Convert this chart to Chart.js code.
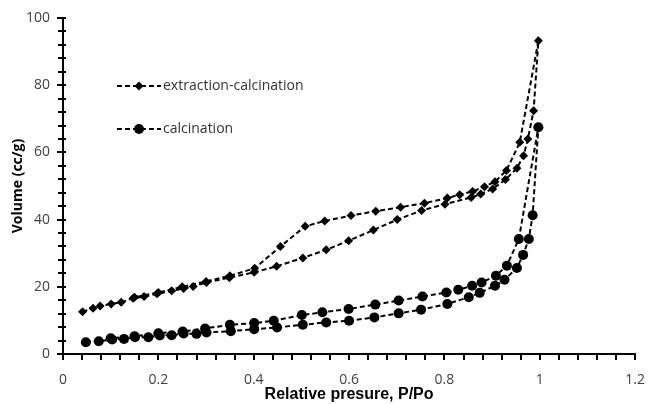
<!DOCTYPE html>
<html>
<head>
<meta charset="utf-8">
<script src="https://cdn.jsdelivr.net/npm/chart.js@4.4.1/dist/chart.umd.min.js"></script>
<style>
  html, body { margin: 0; padding: 0; background: #fff; }
  #wrap { position: relative; width: 658px; height: 404px; }
  #ticks { position: absolute; left: 0; top: 0; pointer-events: none; }
</style>
</head>
<body>
<div id="wrap"><canvas id="iso"></canvas><canvas id="ticks" width="658" height="404"></canvas></div>
<script>
// Isotherm data read from the figure (P/Po, volume cc/g), in measuring order:
// adsorption branch up, then desorption branch back down.
const extP = [0.041, 0.063, 0.078, 0.101, 0.122, 0.147, 0.170, 0.197, 0.228, 0.253, 0.273, 0.301,
    0.349, 0.401, 0.448, 0.503, 0.552, 0.599, 0.651, 0.701, 0.752, 0.801, 0.856, 0.876, 0.901,
    0.928, 0.952, 0.966, 0.975, 0.987, 0.997,
    0.958, 0.930, 0.906, 0.884, 0.859, 0.832, 0.806, 0.758, 0.708, 0.656, 0.604, 0.549, 0.508,
    0.456, 0.402, 0.350, 0.300, 0.250, 0.200, 0.150];
const extV = [12.6, 13.6, 14.3, 14.9, 15.4, 16.6, 17.1, 17.9, 18.8, 19.5, 20.1, 21.3,
    22.7, 24.3, 26.1, 28.6, 31.0, 33.7, 36.9, 40.0, 42.7, 44.6, 46.6, 47.6, 49.1,
    51.9, 55.3, 59.0, 64.0, 72.4, 93.2,
    63.0, 54.6, 51.3, 49.8, 48.4, 47.4, 46.4, 44.9, 43.7, 42.5, 41.2, 39.6, 38.0,
    32.0, 25.5, 23.3, 21.6, 20.0, 18.3, 16.9];

const calP = [0.048, 0.075, 0.103, 0.128, 0.151, 0.179, 0.203, 0.228, 0.253, 0.280, 0.301, 0.352,
    0.401, 0.449, 0.503, 0.552, 0.600, 0.653, 0.704, 0.751, 0.806, 0.851, 0.874, 0.906, 0.926,
    0.952, 0.965, 0.977, 0.985, 0.997,
    0.956, 0.931, 0.908, 0.878, 0.858, 0.829, 0.804, 0.754, 0.704, 0.655, 0.599, 0.544, 0.501,
    0.442, 0.401, 0.350, 0.298, 0.251, 0.200, 0.150, 0.100];
const calV = [3.5, 3.8, 4.3, 4.5, 5.0, 5.0, 5.5, 5.6, 6.1, 6.0, 6.4, 6.8,
    7.4, 7.9, 8.7, 9.4, 9.9, 10.9, 12.1, 13.2, 14.9, 16.9, 18.2, 20.3, 22.1,
    25.6, 29.5, 34.2, 41.3, 67.5,
    34.2, 26.3, 23.3, 21.3, 20.3, 19.1, 18.3, 17.1, 15.9, 14.7, 13.4, 12.4, 11.6,
    9.9, 9.2, 8.7, 7.6, 6.7, 6.2, 5.3, 4.7];

const seriesNames = ['extraction-calcination', 'calcination'];
const xMajor = [0, 0.2, 0.4, 0.6, 0.8, 1, 1.2];
const yMajor = [0, 20, 40, 60, 80, 100];

const toPoints = (xs, ys) => xs.map((x, i) => ({ x: x, y: ys[i] }));
const isMajor = (v, list) => list.some(m => Math.abs(m - v) < 1e-6);

// Tick marks on a clean overlay canvas: y ticks cross the axis, x ticks hang below it
const axisTicks = {
    id: 'axisTicks',
    afterDraw(chart) {
        const c = document.getElementById('ticks');
        const g = c.getContext('2d');
        const xs = chart.scales.x, ys = chart.scales.y;
        const left = chart.chartArea.left, bottom = chart.chartArea.bottom;
        g.clearRect(0, 0, c.width, c.height);
        g.fillStyle = '#000';
        ys.ticks.forEach(t => {
            const py = Math.round(ys.getPixelForValue(t.value));
            const out = isMajor(t.value, yMajor) ? 6 : 5;
            g.fillRect(left - out, py - 1, out + 3, 2);
        });
        xs.ticks.forEach(t => {
            const px = Math.round(xs.getPixelForValue(t.value));
            g.fillRect(px - 1, bottom - 1, 2, 7);
        });
    }
};

// Legend drawn inside the plot, like the spreadsheet original
const insideLegend = {
    id: 'insideLegend',
    afterDatasetsDraw(chart) {
        const ctx = chart.ctx;
        const rows = [86, 129];
        chart.data.datasets.forEach((ds, i) => {
            const y = rows[i];
            ctx.save();
            ctx.strokeStyle = '#000';
            ctx.lineWidth = 2;
            ctx.setLineDash([5, 3]);
            ctx.beginPath();
            ctx.moveTo(117, y);
            ctx.lineTo(161, y);
            ctx.stroke();
            ctx.setLineDash([]);
            ctx.fillStyle = '#000';
            ctx.beginPath();
            if (ds.pointStyle === 'rectRot') {
                const r = 4.5;
                ctx.moveTo(139, y - r);
                ctx.lineTo(139 + r, y);
                ctx.lineTo(139, y + r);
                ctx.lineTo(139 - r, y);
                ctx.closePath();
            } else {
                ctx.arc(139, y, 5, 0, Math.PI * 2);
            }
            ctx.fill();
            ctx.fillStyle = '#333';
            ctx.font = '14px "Open Sans"';
            ctx.textBaseline = 'middle';
            ctx.fillText(ds.label, 163, y);
            ctx.restore();
        });
    }
};

const tickFont = { family: '"Open Sans"', size: 14 };
const hiddenGrid = { drawOnChartArea: false, color: 'rgba(0,0,0,0)', tickLength: 5 };

new Chart(document.getElementById('iso'), {
    type: 'scatter',
    data: {
        datasets: [{
            label: seriesNames[0],
            data: toPoints(extP, extV),
            showLine: true,
            borderColor: '#000',
            backgroundColor: '#000',
            borderWidth: 2,
            borderDash: [5, 3],
            pointStyle: 'rectRot',
            pointRadius: 4.5,
            pointBorderWidth: 0
        }, {
            label: seriesNames[1],
            data: toPoints(calP, calV),
            showLine: true,
            borderColor: '#000',
            backgroundColor: '#000',
            borderWidth: 2,
            borderDash: [5, 3],
            pointStyle: 'circle',
            pointRadius: 5,
            pointBorderWidth: 0
        }]
    },
    options: {
        responsive: true,
        maintainAspectRatio: false,
        animation: false,
        layout: { padding: { top: 18, right: 15, left: 0, bottom: 0 } },
        plugins: { legend: { display: false }, tooltip: { enabled: false } },
        scales: {
            x: {
                type: 'linear',
                min: 0, max: 1.2,
                afterFit(scale) { scale.height = 50; },
                border: { color: '#000', width: 2 },
                grid: hiddenGrid,
                ticks: {
                    stepSize: 0.04,
                    autoSkip: false,
                    maxRotation: 0,
                    padding: 13,
                    color: '#404040',
                    font: tickFont,
                    callback: v => isMajor(v, xMajor) ? String(+v.toFixed(2)) : ''
                },
                title: {
                    display: true,
                    text: 'Relative presure, P/Po',
                    color: '#000',
                    font: { family: '"Liberation Sans"', size: 16, weight: 'bold' },
                    padding: { top: 0, bottom: 0 }
                }
            },
            y: {
                type: 'linear',
                min: 0, max: 100,
                afterFit(scale) { scale.width = 63; },
                border: { color: '#000', width: 2 },
                grid: hiddenGrid,
                ticks: {
                    stepSize: 4,
                    autoSkip: false,
                    padding: 8,
                    color: '#404040',
                    font: tickFont,
                    callback: v => isMajor(v, yMajor) ? String(v) : ''
                },
                title: {
                    display: true,
                    text: 'Volume (cc/g)',
                    color: '#000',
                    font: { family: '"Open Sans"', size: 14, weight: 'bold' },
                    padding: { top: 10, bottom: 0 }
                }
            }
        }
    },
    plugins: [axisTicks, insideLegend]
});
</script>
</body>
</html>
